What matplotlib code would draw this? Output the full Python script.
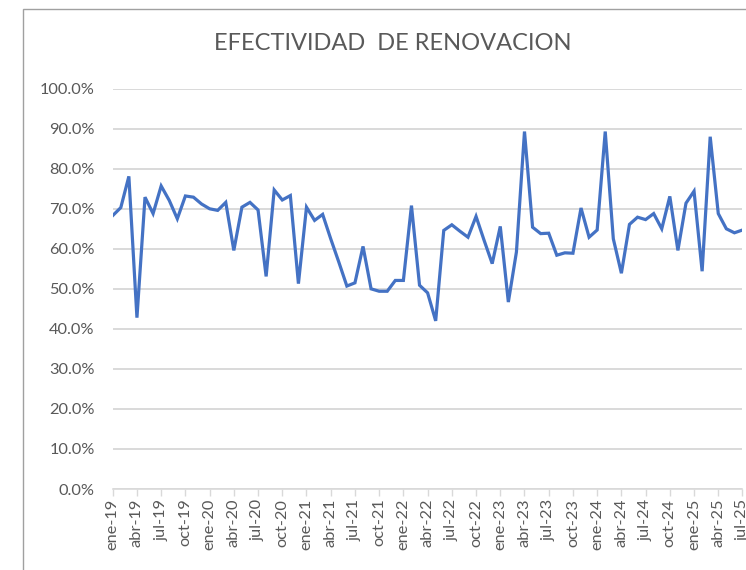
import matplotlib.pyplot as plt
from matplotlib.patches import Rectangle
from matplotlib.ticker import PercentFormatter, FixedLocator

plt.rcParams["font.family"] = ["Lato", "DejaVu Sans"]

meses = ["ene", "feb", "mar", "abr", "may", "jun",
         "jul", "ago", "sep", "oct", "nov", "dic"]
anios = ["19", "20", "21", "22", "23", "24", "25"]

# efectividad mensual (%) de ene-19 a jul-25
efectividad = [
    68.3, 70.3, 78.1, 42.8, 72.9, 68.8, 75.7, 72.1, 67.5, 73.2, 72.9, 71.2,
    70.0, 69.6, 71.6, 59.6, 70.4, 71.6, 69.7, 53.1, 74.7, 72.2, 73.3, 51.3,
    70.4, 67.1, 68.6, 62.5, 56.7, 50.7, 51.5, 60.6, 50.0, 49.4, 49.4, 52.1,
    52.1, 70.8, 50.9, 49.0, 42.0, 64.6, 66.0, 64.4, 62.9, 68.1, 62.1, 56.3,
    65.6, 46.7, 59.2, 89.3, 65.4, 63.8, 63.9, 58.4, 59.0, 58.9, 70.2, 62.9,
    64.7, 89.3, 62.5, 53.9, 66.1, 67.9, 67.3, 68.8, 65.0, 73.1, 59.6, 71.4,
    74.4, 54.4, 88.0, 68.8, 65.0, 64.0, 64.7,
]

periodos = [m + "-" + a for a in anios for m in meses][:len(efectividad)]
x = list(range(len(efectividad)))
gris = "#595959"

fig = plt.figure(figsize=(7.46, 5.70), dpi=100)
ax = fig.add_axes([0.1511, 0.1421, 0.8442, 0.7023])

ax.plot(x, [v / 100 for v in efectividad], color="#4472C4", lw=2.3,
        solid_joinstyle="miter")

ax.set_xlim(0, len(efectividad) - 1)
ax.set_ylim(0, 1.0)
ax.yaxis.set_major_locator(FixedLocator([i / 10 for i in range(11)]))
ax.yaxis.set_major_formatter(PercentFormatter(1.0, decimals=1))
ax.set_xticks(x[::3])
ax.set_xticklabels(periodos[::3], rotation=90, va="top", ha="center")

ax.grid(axis="y", color="#d9d9d9", lw=1.4)
ax.set_axisbelow(True)
for lado in ["top", "right", "left"]:
    ax.spines[lado].set_visible(False)
ax.spines["bottom"].set_color("#d9d9d9")
ax.spines["bottom"].set_linewidth(1.2)

ax.tick_params(axis="y", length=0, pad=13, labelsize=11.8, labelcolor=gris)
ax.tick_params(axis="x", length=5, width=1, color="#d9d9d9", pad=2,
               labelsize=11.8, labelcolor=gris)

fig.text(0.526, 0.923, "EFECTIVIDAD  DE RENOVACION", ha="center", va="center",
         fontsize=17, color=gris)

# borde del area del grafico
fig.add_artist(Rectangle((0.0302, -0.2), 1.5, 1.185, transform=fig.transFigure,
                         fill=False, edgecolor="#a0a0a0", lw=1.0, clip_on=False))

fig.savefig("out.png", dpi=100)
